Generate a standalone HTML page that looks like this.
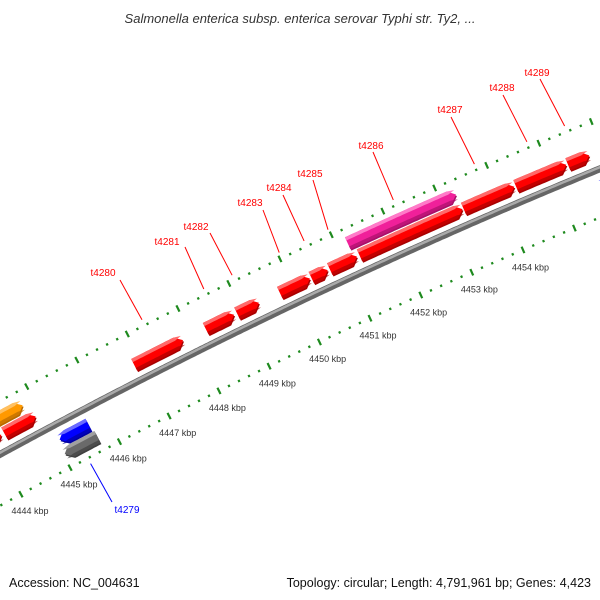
<!DOCTYPE html>
<html><head><meta charset="utf-8"><style>
html,body{margin:0;padding:0;background:#fff;}
svg{display:block;font-family:"Liberation Sans","DejaVu Sans",sans-serif;}
</style></head><body>
<svg id="map" width="600" height="600" viewBox="0 0 600 600" xmlns="http://www.w3.org/2000/svg">
<rect x="0" y="0" width="600" height="600" fill="#fff"/>
<text x="300" y="23" text-anchor="middle" font-size="13" font-style="italic" fill="#333">Salmonella enterica subsp. enterica serovar Typhi str. Ty2, ...</text>
<g id="rings"></g>
<g id="backbone"></g>
<g id="features"></g>
<g id="labels"></g>
<text x="9" y="587" font-size="12.5" fill="#111">Accession: NC_004631</text>
<text x="591" y="587" font-size="12.5" fill="#111" text-anchor="end">Topology: circular; Length: 4,791,961 bp; Genes: 4,423</text>
</svg>
<script>
// ---- data (positions in kbp) ----
var featStart  = [4443.8, 4444.26, 4446.86, 4448.28, 4448.9, 4449.74, 4450.36, 4450.72, 4451.3, 4453.32, 4454.33, 4455.33, 4444.0, 4451.2, 4445.07, 4445.03, 4455.72];
var featEnd    = [4444.2, 4444.89, 4447.83, 4448.84, 4449.33, 4450.33, 4450.68, 4451.25, 4453.3, 4454.3, 4455.3, 4455.74, 4444.78, 4453.3, 4445.65, 4445.69, 4456.2];
var featStrand = [1,1,1,1,1,1,1,1,1,1,1,1,1,1,-1,-1,-1];
var featRow    = [1,1,1,1,1,1,1,1,1,1,1,1,2,2,1,2,1];
var featColor  = ["red","red","red","red","red","red","red","red","red","red","red","red","orange","pink","blue","gray","blue"];
var featLabel  = ["","","t4280","t4281","t4282","t4283","t4284","t4285","","t4287","t4288","t4289","","t4286","","t4279",""];
var tickLabels = ["4444 kbp","4445 kbp","4446 kbp","4447 kbp","4448 kbp","4449 kbp","4450 kbp","4451 kbp","4452 kbp","4453 kbp","4454 kbp"];
var tickValues = [4444,4445,4446,4447,4448,4449,4450,4451,4452,4453,4454];
// label text anchor layout (pixels) — layout, not data
var labelPos = {"t4280":[103,276,120,280],"t4281":[167,245,185,247],"t4282":[196,230,210,233],"t4283":[250,206,263,210],"t4284":[279,191,283,195],"t4285":[310,177,313,180],"t4286":[371,149,373,152],"t4287":[450,113,451,117],"t4288":[502,91,503,95],"t4289":[537,76,540,79],"t4279":[127,513,112,502]};

(function(){
var CX=2874, CY=5719;
function ang(p){return (-118.1+(p-4445)*0.5376)*Math.PI/180;}
function pt(p,r){var a=ang(p);return [CX+r*Math.cos(a),CY+r*Math.sin(a)];}
var NS="http://www.w3.org/2000/svg";
function mk(tag,attrs,parent){var e=document.createElementNS(NS,tag);for(var k in attrs)e.setAttribute(k,attrs[k]);parent.appendChild(e);return e;}
function arcPts(p0,p1,r){var a=[],n=Math.max(2,Math.ceil(Math.abs(p1-p0)*20));for(var i=0;i<=n;i++){var p=p0+(p1-p0)*i/n;a.push(pt(p,r));}return a;}
function ps(a){return a.map(function(q){return q[0].toFixed(1)+","+q[1].toFixed(1);}).join(" ");}
var R_BB=5998, R_UP=6045, R_LO=5953;

var rings=document.getElementById("rings");
[R_UP,R_LO].forEach(function(r){
  for(var i=0;i<=70;i++){
    var p=4443.4+i*0.2; p=Math.round(p*5)/5;
    var major=Math.abs(p-Math.round(p))<1e-6;
    var h=major?3.5:1.2;
    var a=pt(p,r-h),b=pt(p,r+h);
    var l=mk("line",{x1:a[0],y1:a[1],x2:b[0],y2:b[1],stroke:"#1e8a1e","stroke-width":2.2},rings);
    
    
  }
});
tickValues.forEach(function(v,i){
  var c=pt(v,R_LO-19);
  var t=mk("text",{x:c[0].toFixed(1),y:(c[1]+3).toFixed(1),"text-anchor":"middle","font-size":"9",fill:"#333"},rings);
  t.textContent=tickLabels[i];
  
  
});

var bbg=document.getElementById("backbone");
var d="M"+ps(arcPts(4443.0,4457.0,R_BB)).split(" ").join(" L");
var b1=mk("path",{d:d,fill:"none",stroke:"#666","stroke-width":7},bbg);


var d2="M"+ps(arcPts(4443.0,4457.0,R_BB+1.5)).split(" ").join(" L");
var b2=mk("path",{d:d2,fill:"none",stroke:"#aaa","stroke-width":2.5},bbg);



var palette={red:["#ff0000","#ff6a6a","#a80000"],orange:["#ff9900","#ffc060","#b86a00"],pink:["#f0209a","#ff7ac8","#a8106a"],blue:["#0000ff","#6a6aff","#0000a0"],gray:["#6a6a6a","#a0a0a0","#404040"]};
var fg=document.getElementById("features");
var HEAD=0.13;
function shape(s,e,strand,r0,r1){
  var rm=(r0+r1)/2,out=[];
  if(strand>0){
    var hs=Math.max(s,e-HEAD);
    out=arcPts(s,hs,r1).concat([pt(e,rm)]).concat(arcPts(hs,s,r0));
  }else{
    var he=Math.min(e,s+HEAD);
    out=[pt(s,rm)].concat(arcPts(he,e,r1)).concat(arcPts(e,he,r0));
  }
  return out;
}
for(var i=0;i<featStart.length;i++){
  var s=featStart[i],e=featEnd[i],st=featStrand[i],row=featRow[i];
  var r0,r1;
  if(st>0){ r0=row===1?6008:6024; r1=r0+13; } else { r1=row===1?5989:5974; r0=r1-13; }
  var col=palette[featColor[i]];
  var g=mk("g",{},fg);
  
  
  var sh=shape(s,e,st,r0,r1);
  var shadowEl=mk("polygon",{points:ps(sh.map(function(q){return [q[0]+1,q[1]+1.5];})),fill:col[2]},g);
  
  
  var bodyEl=mk("polygon",{points:ps(sh),fill:col[0]},g);
  
  
  var hiEl=mk("polygon",{points:ps(shape(s,e,st,r1-3.5,r1)),fill:col[1]},g);
  
  
  var underEl=mk("polygon",{points:ps(shape(s,e,st,r0,r0+3)),fill:col[2],opacity:0.7},g);
  
  
}

var lg=document.getElementById("labels");
for(var j=0;j<featStart.length;j++){
  var nm=featLabel[j]; if(!nm) continue;
  var lp=labelPos[nm]; var mid=(featStart[j]+featEnd[j])/2;
  var sd=featStrand[j];
  var inner=pt(mid, sd>0?R_UP+6:R_LO-6);
  var colr=sd>0?"#ff0000":"#0000ff";
  var ln=mk("line",{x1:lp[2],y1:lp[3],x2:inner[0].toFixed(1),y2:inner[1].toFixed(1),stroke:colr,"stroke-width":1},lg);
  
  
  var tx=mk("text",{x:lp[0],y:lp[1],"text-anchor":"middle","font-size":"10",fill:colr},lg);
  tx.textContent=nm;
  
  
}
})();
</script>
</body></html>
